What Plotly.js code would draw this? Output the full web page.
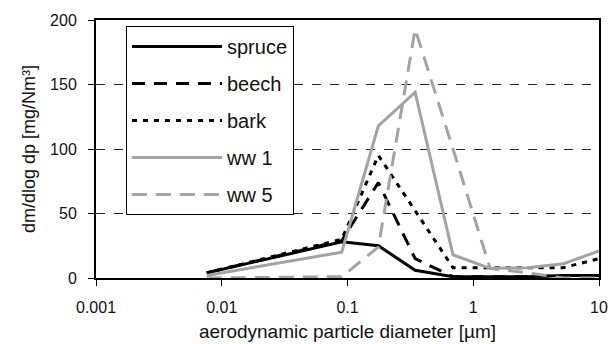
<!DOCTYPE html>
<html>
<head>
<meta charset="utf-8">
<script src="https://cdn.plot.ly/plotly-3.0.1.min.js"></script>
<style>html,body{margin:0;padding:0;background:#fff;}#chart{width:611px;height:344px;}</style>
</head>
<body>
<div id="chart"></div>
<script>
// aerodynamic particle diameter [µm]
const diameter = [0.0076, 0.09, 0.176, 0.345, 0.69, 1.36, 2.7, 5.2, 10];
// dm/dlog dp [mg/Nm³]
const spruce = [4, 28, 25, 6, 1, 1, 1, 2, 2];
const beech  = [4, 29, 74, 15, 1, 1, 1, 2, 2];
const bark   = [4, 30, 95, 52, 8, 8, 8, 8, 15];
const ww1    = [2, 20, 118, 144, 18, 7.5, 8, 11, 21];
const ww5    = [0, 1, 24, 193, 100, 7.5, 4, 0, 0];
const seriesNames = ["spruce", "beech", "bark", "ww 1", "ww 5"];
const xTickVals = [0.001, 0.01, 0.1, 1, 10];
const xTickText = ["0.001", "0.01", "0.1", "1", "10"];
const yTickVals = [0, 50, 100, 150, 200];

const GREY = "#a3a3a3";
const styles = [
  {color: "#000", dash: "solid"},
  {color: "#000", dash: "13px,9px"},
  {color: "#000", dash: "5px,6px"},
  {color: GREY, dash: "solid"},
  {color: GREY, dash: "15px,9px"}
];
const values = [spruce, beech, bark, ww1, ww5];
const traces = values.map((v, i) => ({
  x: diameter, y: v, name: seriesNames[i], type: "scatter", mode: "lines",
  legendgroup: "g" + i,
  line: {color: styles[i].color, width: 3, dash: styles[i].dash}
}));

const FAM = "Liberation Sans, Arial, sans-serif";
const TXT = "#111";
const layout = {
  width: 611, height: 344,
  margin: {l: 96, r: 12, t: 20, b: 66},
  paper_bgcolor: "#fff", plot_bgcolor: "#fff",
  font: {family: FAM, size: 16, color: TXT},
  showlegend: true,
  legend: {
    x: 0.0596, y: 0.977, xanchor: "left", yanchor: "top",
    bgcolor: "#fff", bordercolor: "#000", borderwidth: 1,
    font: {family: FAM, size: 20, color: TXT},
    traceorder: "grouped", tracegroupgap: 8, itemwidth: 90
  },
  xaxis: {
    type: "log", range: [-3, 1],
    tickvals: xTickVals, ticktext: xTickText,
    ticks: "outside", ticklen: 6, tickcolor: "#000", tickwidth: 1,
    showline: true, linecolor: "#000", linewidth: 2, mirror: true,
    showgrid: false, zeroline: false,
    ticklabelstandoff: 8,
    tickfont: {family: FAM, size: 16, color: TXT},
    title: {text: "aerodynamic particle diameter [µm]", font: {family: FAM, size: 19, color: TXT}, standoff: 9}
  },
  yaxis: {
    range: [0, 200], tickvals: yTickVals,
    ticks: "outside", ticklen: 6, tickcolor: "#000", tickwidth: 1,
    showline: true, linecolor: "#000", linewidth: 2, mirror: true,
    showgrid: true, gridcolor: "#222", gridwidth: 1, griddash: "dash",
    zeroline: false,
    ticklabelstandoff: 8,
    tickfont: {family: FAM, size: 16, color: TXT},
    title: {text: "dm/dlog dp [mg/Nm³]", font: {family: FAM, size: 18, color: TXT}, standoff: 10}
  }
};
Plotly.newPlot("chart", traces, layout, {staticPlot: true, displayModeBar: false});
</script>
</body>
</html>
